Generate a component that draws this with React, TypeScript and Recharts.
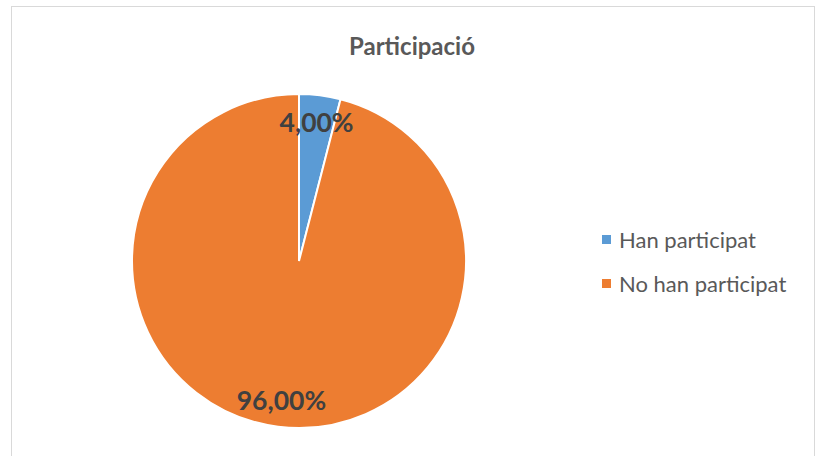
import React from "react";
import { PieChart, Pie, Cell, Legend } from "recharts";

const categories = ["Han participat", "No han participat"];
const values = [4, 96];
const labels = ["4,00%", "96,00%"];
const colors = ["#5B9BD5", "#ED7D31"];

const data = categories.map((name, i) => ({ name, value: values[i], label: labels[i] }));

const FONT = "Lato, 'Open Sans', sans-serif";
const RAD = Math.PI / 180;

function renderLabel(props: any) {
  const { cx, cy, midAngle, outerRadius, index } = props;
  const r = outerRadius * 0.84;
  const x = cx + r * Math.cos(-midAngle * RAD);
  const y = cy + r * Math.sin(-midAngle * RAD);
  return (
    <text
      x={x}
      y={y}
      textAnchor="middle"
      dominantBaseline="central"
      fill="#404040"
      fontSize={26.5}
      fontWeight={700}
      fontFamily={FONT}
    >
      {data[index].label}
    </text>
  );
}

function LegendBox() {
  return (
    <div>
      {categories.map((name, i) => (
        <div key={name} style={{ display: "flex", alignItems: "center", height: 44 }}>
          <span style={{ width: 9, height: 9, background: colors[i], display: "inline-block", marginRight: 8 }} />
          <span style={{ color: "#595959", fontSize: 22, fontFamily: FONT }}>{name}</span>
        </div>
      ))}
    </div>
  );
}

export default function App() {
  return (
    <div style={{ position: "fixed", left: 0, top: 0, width: 819, height: 456, background: "#fff", overflow: "hidden" }}>
      <div
        style={{
          position: "absolute",
          left: 11,
          top: 6,
          width: 804,
          height: 470,
          border: "1px solid #d9d9d9",
          boxSizing: "border-box",
        }}
      />
      <div
        style={{
          position: "absolute",
          left: 0,
          width: 824,
          top: 31,
          textAlign: "center",
          fontFamily: FONT,
          fontWeight: 700,
          fontSize: 24,
          lineHeight: "30px",
          color: "#595959",
        }}
      >
        Participació
      </div>
      <div style={{ position: "absolute", left: 0, top: 0 }}>
        <PieChart width={819} height={456} margin={{ top: 0, right: 0, bottom: 0, left: 0 }}>
          <Pie
            data={data}
            dataKey="value"
            nameKey="name"
            cx={299}
            cy={261}
            outerRadius={167}
            startAngle={90}
            endAngle={-270}
            stroke="#ffffff"
            strokeWidth={2}
            label={renderLabel}
            labelLine={false}
            isAnimationActive={false}
          >
            {data.map((d, i) => (
              <Cell key={d.name} fill={colors[i]} />
            ))}
          </Pie>
          <Legend
            layout="vertical"
            align="right"
            verticalAlign="middle"
            content={() => <LegendBox />}
            wrapperStyle={{ left: 602, top: 217, width: 210 }}
          />
        </PieChart>
      </div>
    </div>
  );
}
